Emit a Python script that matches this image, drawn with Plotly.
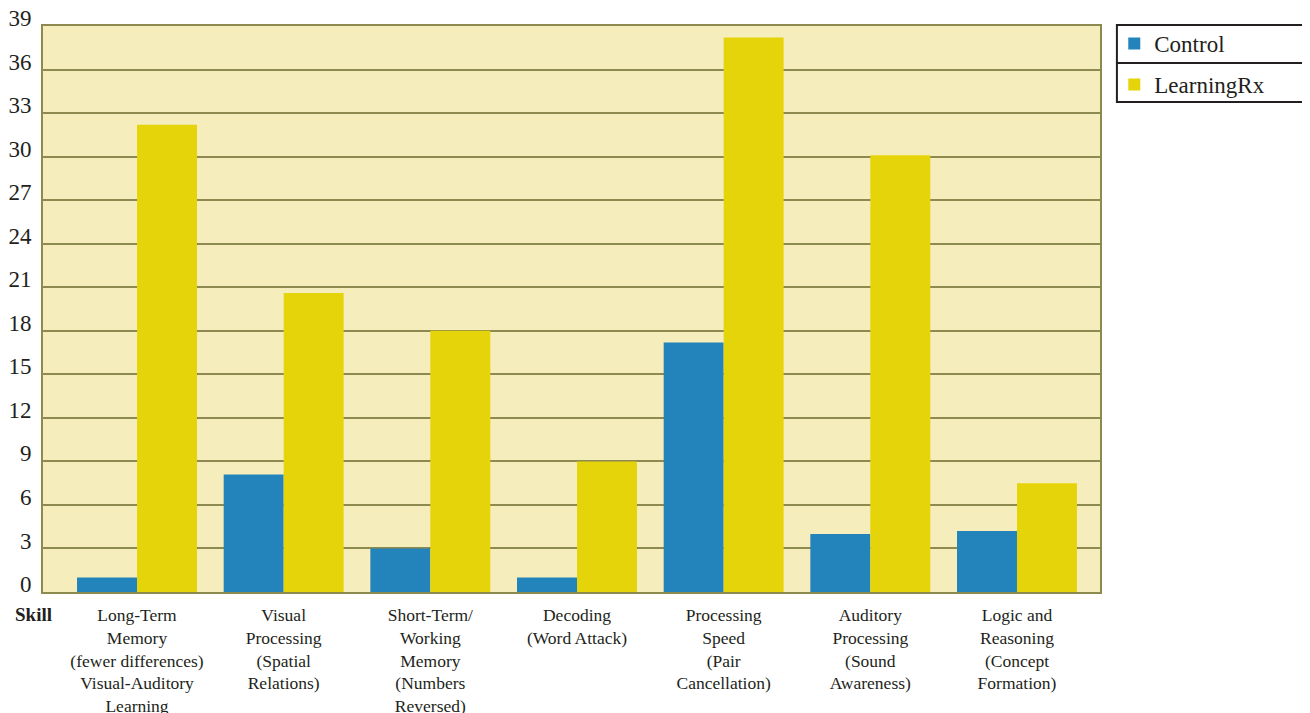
import plotly.graph_objects as go

categories = [
    "Long-Term<br>Memory<br>(fewer differences)<br>Visual-Auditory<br>Learning",
    "Visual<br>Processing<br>(Spatial<br>Relations)",
    "Short-Term/<br>Working<br>Memory<br>(Numbers<br>Reversed)",
    "Decoding<br>(Word Attack)",
    "Processing<br>Speed<br>(Pair<br>Cancellation)",
    "Auditory<br>Processing<br>(Sound<br>Awareness)",
    "Logic and<br>Reasoning<br>(Concept<br>Formation)",
]
control = [1.0, 8.1, 3.0, 1.0, 17.2, 4.0, 4.2]
learningrx = [32.2, 20.6, 18.0, 9.0, 38.2, 30.1, 7.5]
y_ticks = list(range(0, 40, 3))

pos = list(range(len(categories)))
FONT = "Liberation Serif, Times New Roman, serif"
INK = "#231f20"
GRID = "#8c8a4e"

fig = go.Figure()
fig.add_trace(go.Bar(x=pos, y=control, name="Control", legendgroup="a",
                     marker=dict(color="#2383bb", line=dict(width=0))))
fig.add_trace(go.Bar(x=pos, y=learningrx, name="LearningRx", legendgroup="b",
                     marker=dict(color="#e6d40b", line=dict(width=0))))

fig.update_layout(
    width=1302, height=705,
    margin=dict(l=35, r=210, t=18, b=121, autoexpand=False),
    paper_bgcolor="white",
    plot_bgcolor="#f5edbb",
    barmode="group", bargap=0.182, bargroupgap=0,
    font=dict(family=FONT, color=INK),
    showlegend=True,
    legend=dict(
        x=1.0135, y=1.007, xanchor="left", yanchor="top",
        borderwidth=0, bgcolor="rgba(0,0,0,0)",
        font=dict(size=23, family=FONT, color=INK),
        itemwidth=30, tracegroupgap=8,
    ),
)
fig.update_xaxes(
    range=[-0.641, 6.566], automargin=False,
    tickvals=pos, ticktext=categories,
    tickfont=dict(size=17.5, family=FONT, color=INK),
    showgrid=False, zeroline=False,
    showline=True, linecolor=GRID, linewidth=2, mirror=True,
    ticks="", ticklabelstandoff=6, ticklabeloverflow="allow",
)
fig.update_yaxes(
    range=[0, 39], tickvals=y_ticks, automargin=False,
    tickfont=dict(size=23, family=FONT, color=INK),
    showgrid=True, gridcolor=GRID, gridwidth=2,
    zeroline=False,
    showline=True, linecolor=GRID, linewidth=2, mirror=True,
    ticks="", ticklabelshift=-8, ticklabelstandoff=5,
    ticklabeloverflow="allow",
)
# legend frame with separator
fig.add_shape(type="rect", xref="paper", yref="paper",
              x0=1.016, x1=1.1977, y0=0.8657, y1=1.0018,
              line=dict(color=INK, width=2), fillcolor="rgba(0,0,0,0)")
fig.add_shape(type="line", xref="paper", yref="paper",
              x0=1.016, x1=1.1977, y0=0.9346, y1=0.9346,
              line=dict(color=INK, width=2))
fig.add_annotation(
    text="<b>Skill</b>", xref="paper", yref="paper", x=-0.028, y=-0.018,
    xanchor="left", yanchor="top", showarrow=False,
    font=dict(size=19, family=FONT, color=INK),
)
fig.write_html("out.html")
